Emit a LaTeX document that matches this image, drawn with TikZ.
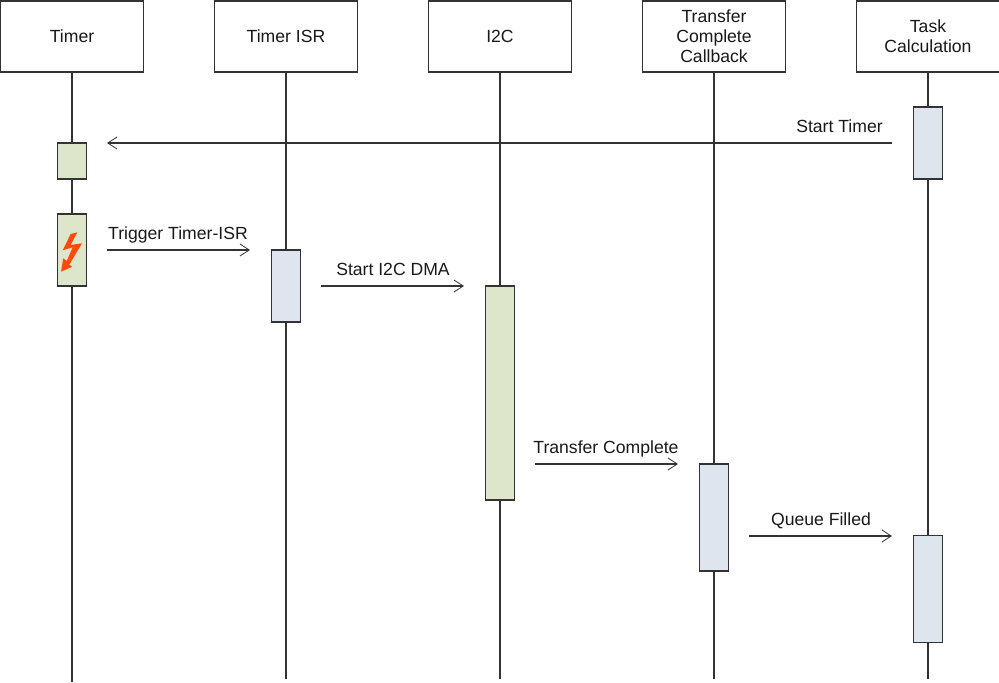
\documentclass[tikz,border=0pt]{standalone}
\usepackage{fontspec}
\setmainfont{Liberation Sans}
\usetikzlibrary{arrows.meta}
\definecolor{ink}{HTML}{333333}
\definecolor{actg}{HTML}{DDE6CB}
\definecolor{actb}{HTML}{DEE5EE}
\definecolor{bolt}{HTML}{FF4A0A}
\tikzset{
  head/.style={draw=ink,line width=1.3pt,fill=white,minimum width=107.25pt,minimum height=53.6pt,inner sep=0pt,align=center,font=\fontsize{13.2}{15}\selectfont,text=black!90},
  actgreen/.style={draw=ink,line width=0.9pt,fill=actg,minimum width=21.4pt,inner sep=0pt},
  actblue/.style={draw=ink,line width=0.9pt,fill=actb,minimum width=21.4pt,inner sep=0pt},
  life/.style={draw=ink,line width=1.1pt},
  msg/.style={draw=ink,line width=0.9pt,-{Straight Barb[length=7pt,width=9pt,line width=0.6pt]}},
  lbl/.style={inner sep=0pt,anchor=base,font=\fontsize{13.2}{15}\selectfont,text=black!90}
}
\begin{document}
\begin{tikzpicture}[x=0.75pt,y=-0.75pt]
\useasboundingbox (0,0) rectangle (999,682);
\node[head] (h1) at (72,36.5) {Timer};
\node[head] (h2) at (286,36.5) {Timer ISR};
\node[head] (h3) at (500,36.5) {I2C};
\node[head] (h4) at (714,36.5) {Transfer\\Complete\\Callback};
\node[head] (h5) at (928,36.5) {Task\\Calculation};
\coordinate (e1) at (72,682);
\coordinate (e2) at (286,679);
\coordinate (e3) at (500,679);
\coordinate (e4) at (714,679);
\coordinate (e5) at (928,679);
\foreach \i in {1,...,5} \draw[life] (h\i) -- (e\i);
\node[actgreen,minimum height=27pt] (t1) at (72,161) {};
\node[actgreen,minimum height=54pt] (t2) at (72,250) {};
\node[actblue,minimum height=54pt] (a2) at (286,286) {};
\node[actgreen,minimum height=160.5pt] (a3) at (500,393) {};
\node[actblue,minimum height=80.3pt] (a4) at (714,517.5) {};
\node[actblue,minimum height=80.3pt] (a5b) at (928,589) {};
\node[actblue,minimum height=54pt] (a5a) at (928,143) {};
\fill[bolt] (77.3,232.3)--(70.7,234)--(62.7,250.3)--(72.7,247.3)--(66.7,261)--(63.3,258.3)--(61,271.7)--(72.3,266.7)--(69.3,264.7)--(82,243.3)--(70.7,245)--cycle;
\coordinate (m1s) at (892,143); \coordinate (m1e) at (107,143);
\coordinate (m2s) at (107,250); \coordinate (m2e) at (250,250);
\coordinate (m3s) at (321,286); \coordinate (m3e) at (464,286);
\coordinate (m4s) at (535,464); \coordinate (m4e) at (678,464);
\coordinate (m5s) at (749,536); \coordinate (m5e) at (892,536);
\draw[msg] (m1s) -- (m1e);
\draw[msg] (m2s) -- (m2e);
\draw[msg] (m3s) -- (m3e);
\draw[msg] (m4s) -- (m4e);
\draw[msg] (m5s) -- (m5e);
\node[lbl] (l1) at (839.5,132) {Start Timer};
\node[lbl] (l2) at (178,239) {Trigger Timer-ISR};
\node[lbl] (l3) at (393,275) {Start I2C DMA};
\node[lbl] (l4) at (606,453) {Transfer Complete};
\node[lbl] (l5) at (821,525) {Queue Filled};
\end{tikzpicture}
\end{document}
